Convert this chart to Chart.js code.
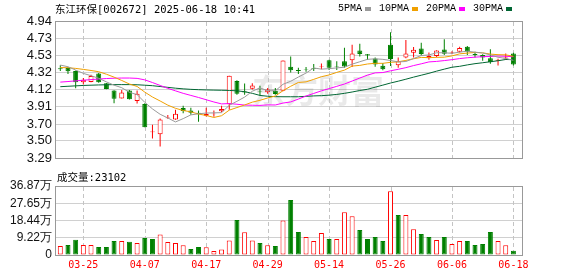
<!DOCTYPE html>
<html><head><meta charset="utf-8">
<script src="https://cdn.jsdelivr.net/npm/chart.js@4/dist/chart.umd.min.js"></script>
<style>
html,body{margin:0;padding:0;background:#fff;}
#wrap{position:relative;width:578px;height:276px;overflow:hidden;}
canvas{position:absolute;left:0;}
.t{position:absolute;white-space:nowrap;color:#000;font-family:"DejaVu Sans Mono","Noto Sans CJK SC",monospace;font-size:10.5px;line-height:12px;}
#legend{display:flex;align-items:center;font-family:"Liberation Mono","Noto Sans CJK SC",monospace;font-size:10px;}
#legend i{display:inline-block;width:6px;height:4px;margin:0 8px 0 3px;}
</style></head>
<body><div id="wrap">
<canvas id="k" width="578" height="170" style="top:0"></canvas>
<canvas id="v" width="578" height="106" style="top:170px"></canvas>
<div class="t" id="title" style="left:55px;top:3px"></div>
<div class="t" id="legend" style="left:338px;top:3px"></div>
<div class="t" id="vtitle" style="left:57px;top:171px"></div>
</div>
<script>
// ---------------- data ----------------
const stockTitle = '东江环保[002672] 2025-06-18 10:41';
const volTitle = '成交量:23102';
const maNames = ['5PMA', '10PMA', '20PMA', '30PMA'];
const dates = ['03-20','03-21','03-24','03-25','03-26','03-27','03-28','03-31','04-01','04-02',
  '04-03','04-07','04-08','04-09','04-10','04-11','04-14','04-15','04-16','04-17',
  '04-18','04-21','04-22','04-23','04-24','04-25','04-28','04-29','04-30','05-06',
  '05-07','05-08','05-09','05-12','05-13','05-14','05-15','05-16','05-19','05-20',
  '05-21','05-22','05-23','05-26','05-27','05-28','05-29','05-30','06-03','06-04',
  '06-05','06-06','06-09','06-10','06-11','06-12','06-13','06-16','06-17','06-18'];
const tickIdx = [3, 11, 19, 27, 35, 43, 51, 59];
const priceTicks = [3.29, 3.50, 3.70, 3.91, 4.12, 4.32, 4.53, 4.73, 4.94];
const volTicks = [0, 9.22, 18.44, 27.65, 36.87];

const open = [4.371,4.375,4.340,4.203,4.207,4.310,4.191,4.104,4.008,4.104,3.978,3.943,3.603,3.577,3.770,3.756,3.893,3.863,3.836,3.800,3.818,3.856,3.939,4.218,4.092,4.125,4.092,4.083,4.102,4.102,4.390,4.352,4.363,4.375,4.388,4.467,4.394,4.455,4.467,4.585,4.539,4.489,4.401,4.654,4.409,4.501,4.558,4.608,4.493,4.520,4.596,4.554,4.570,4.631,4.543,4.531,4.493,4.463,4.489,4.550];
const high = [4.409,4.386,4.345,4.256,4.295,4.314,4.195,4.108,4.111,4.111,4.104,3.950,3.691,3.767,3.810,3.874,3.920,3.897,3.863,3.897,3.863,3.920,4.283,4.226,4.188,4.190,4.160,4.135,4.135,4.466,4.512,4.379,4.386,4.424,4.428,4.474,4.455,4.619,4.654,4.665,4.543,4.501,4.436,4.806,4.501,4.711,4.627,4.677,4.562,4.589,4.722,4.577,4.631,4.638,4.570,4.539,4.600,4.486,4.550,4.558];
const low = [4.340,4.302,4.130,4.176,4.203,4.196,4.119,3.951,4.008,3.996,3.947,3.661,3.527,3.431,3.765,3.752,3.832,3.813,3.729,3.790,3.787,3.844,3.874,4.054,4.054,4.115,4.045,4.064,4.052,4.095,4.321,4.302,4.329,4.340,4.360,4.352,4.352,4.379,4.386,4.512,4.474,4.390,4.348,4.398,4.379,4.493,4.501,4.524,4.474,4.505,4.531,4.539,4.562,4.531,4.501,4.463,4.425,4.405,4.474,4.405];
const close = [4.360,4.337,4.203,4.233,4.279,4.203,4.123,4.004,4.081,4.000,4.065,3.661,3.610,3.756,3.778,3.825,3.859,3.836,3.818,3.822,3.826,3.882,4.283,4.065,4.080,4.165,4.085,4.115,4.062,4.466,4.348,4.340,4.356,4.367,4.394,4.379,4.386,4.392,4.550,4.543,4.524,4.417,4.360,4.482,4.455,4.550,4.593,4.543,4.520,4.585,4.547,4.562,4.615,4.570,4.531,4.501,4.444,4.474,4.501,4.417];

const ma5 = [4.41,4.39,4.35,4.31,4.282,4.251,4.208,4.168,4.138,4.082,4.055,3.962,3.883,3.818,3.774,3.726,3.766,3.811,3.824,3.833,3.835,3.838,3.926,3.974,4.025,4.095,4.136,4.102,4.101,4.179,4.215,4.266,4.314,4.375,4.361,4.367,4.376,4.384,4.421,4.450,4.479,4.485,4.479,4.465,4.448,4.453,4.488,4.525,4.532,4.558,4.558,4.551,4.566,4.576,4.565,4.556,4.532,4.504,4.490,4.467];
const ma10 = [4.38,4.378,4.37,4.358,4.345,4.33,4.30,4.265,4.225,4.182,4.153,4.085,4.026,3.978,3.928,3.890,3.864,3.847,3.821,3.804,3.780,3.801,3.868,3.899,3.930,3.964,3.986,4.014,4.038,4.102,4.155,4.201,4.208,4.238,4.270,4.291,4.322,4.349,4.398,4.406,4.423,4.431,4.431,4.443,4.449,4.466,4.486,4.502,4.499,4.503,4.505,4.520,4.545,4.554,4.562,4.557,4.542,4.535,4.533,4.516];
const ma20 = [4.205,4.212,4.22,4.228,4.235,4.242,4.248,4.252,4.254,4.254,4.25,4.232,4.2,4.165,4.13,4.10,4.07,4.045,4.02,3.993,3.966,3.943,3.947,3.939,3.929,3.927,3.925,3.931,3.930,3.953,3.967,4.001,4.038,4.069,4.100,4.127,4.154,4.182,4.218,4.254,4.289,4.316,4.320,4.341,4.359,4.379,4.404,4.425,4.448,4.454,4.464,4.475,4.488,4.498,4.505,4.511,4.514,4.518,4.516,4.510];
const ma30 = [4.150,4.155,4.160,4.165,4.168,4.171,4.173,4.175,4.175,4.175,4.173,4.168,4.162,4.152,4.142,4.132,4.124,4.118,4.114,4.111,4.109,4.107,4.105,4.100,4.090,4.070,4.045,4.035,4.030,4.029,4.029,4.029,4.034,4.039,4.042,4.048,4.057,4.070,4.086,4.104,4.119,4.144,4.169,4.194,4.216,4.240,4.265,4.288,4.311,4.337,4.361,4.384,4.395,4.412,4.427,4.438,4.450,4.462,4.477,4.475];

const volume = [4.8,5.3,8.2,5.3,5.3,4.3,4.3,7.5,7.5,7.1,6.4,9.1,8.5,11.0,6.9,6.4,5.2,3.2,4.3,4.1,2.1,3.0,7.8,18.7,12.1,7.8,6.4,5.2,4.8,18.5,29.4,12.3,9.6,7.5,11.8,8.5,8.5,22.8,20.7,13.4,8.5,9.6,7.5,34.0,21.4,21.4,13.7,11.2,9.6,8.0,9.6,5.9,7.5,7.5,5.3,5.9,12.3,7.5,5.2,2.31];
const volUp = [1,0,0,1,1,0,0,0,1,0,1,0,0,1,1,1,1,0,0,1,1,1,1,0,1,1,0,1,0,1,0,0,1,1,1,0,1,1,1,0,0,0,0,1,0,1,1,0,0,1,0,1,1,0,0,0,0,1,1,0];

// ---------------- styles ----------------
const RED = '#ff0000', GREEN = '#008000';
const maColors = ['#9a9a9a', '#f0a000', '#ff00ff', '#006633'];
const X_MIN = -0.56, X_MAX = 60.12;

document.getElementById('title').textContent = stockTitle;
document.getElementById('vtitle').textContent = volTitle;
const lg = document.getElementById('legend');
maNames.forEach((n, k) => {
  const s = document.createElement('span'); s.textContent = n; lg.appendChild(s);
  const b = document.createElement('i'); b.style.background = maColors[k]; lg.appendChild(b);
});

const frame = {
  id: 'frame',
  afterDraw(c) {
    const {ctx, chartArea: a} = c;
    ctx.save(); ctx.strokeStyle = '#999'; ctx.lineWidth = 1;
    ctx.strokeRect(Math.round(a.left) - 0.5, Math.round(a.top) + 0.5,
      Math.round(a.right - a.left) + 1, Math.round(a.bottom - a.top));
    ctx.restore();
  }
};
// vertical dashed grid lines at the date ticks; pixel x from the x scale,
// dashes drawn as small filled rectangles (4 on / 3 off)
const vgrid = {
  id: 'vgrid',
  beforeDatasetsDraw(c) {
    const ctx = c.ctx, a = c.chartArea, xs = c.scales.x;
    ctx.save();
    ctx.fillStyle = '#c4c4c4';
    for (const v of tickIdx) {
      const px = Math.round(xs.getPixelForValue(v));
      for (let y = Math.round(a.top) + 1; y < a.bottom; y += 7) {
        ctx.fillRect(px, y, 1, Math.min(4, a.bottom - y));
      }
    }
    ctx.restore();
  }
};
const watermark = {
  id: 'watermark',
  beforeDatasetsDraw(c) {
    const ctx = c.ctx; ctx.save();
    ctx.fillStyle = 'rgba(0,0,0,0.085)';
    ctx.font = 'bold 33px "Noto Sans CJK SC"';
    ctx.textBaseline = 'middle'; ctx.textAlign = 'left';
    ctx.fillText('东方财富', 252, 90);
    ctx.restore();
  }
};

const idx = dates.map((d, i) => i);
const isUp = i => close[i] >= open[i];

const xCommon = (showLabels) => ({
  type: 'linear', min: X_MIN, max: X_MAX, offset: false,
  afterBuildTicks: s => { s.ticks = tickIdx.map(v => ({value: v})); },
  afterFit: s => { s.height = showLabels ? 21 : 0; },
  grid: {display: false, drawTicks: false, offset: false},
  border: {display: false},
  ticks: {display: showLabels, autoSkip: false, maxRotation: 0, padding: 4,
    color: RED, font: {family: 'DejaVu Sans Mono', size: 10},
    callback: v => dates[v]}
});
const yCommon = (lo, hi, vals, size, fmt) => ({
  type: 'linear', min: lo, max: hi,
  afterBuildTicks: s => { s.ticks = vals.map(v => ({value: v})); },
  afterFit: s => { s.width = 56; },
  grid: {color: '#d0d0d0', drawTicks: false},
  border: {display: false},
  ticks: {autoSkip: false, padding: 4, color: '#111',
    font: {family: 'Liberation Sans', size: size}, callback: fmt}
});

new Chart(document.getElementById('k'), {
  type: 'bar',
  data: {
    datasets: [
      ...[ma5, ma10, ma20, ma30].map((arr, k) => ({
        type: 'line', label: maNames[k], order: 0,
        data: arr.map((v, i) => ({x: i, y: v})),
        borderColor: maColors[k], borderWidth: 1, pointRadius: 0, tension: 0, fill: false
      })),
      {
        label: 'body', order: 1, grouped: false, barThickness: 5, inflateAmount: 0,
        data: idx.map(i => ({x: i, y: [open[i], close[i]]})),
        backgroundColor: idx.map(i => isUp(i) ? '#ffffff' : GREEN),
        borderColor: idx.map(i => isUp(i) ? RED : GREEN),
        borderWidth: 1, borderSkipped: false
      },
      {
        label: 'wick', order: 2, grouped: false, barThickness: 1, inflateAmount: 0,
        data: idx.map(i => ({x: i, y: [low[i], high[i]]})),
        backgroundColor: idx.map(i => isUp(i) ? RED : GREEN),
        borderWidth: 0
      }
    ]
  },
  options: {
    responsive: false, animation: false, devicePixelRatio: 1,
    layout: {padding: {left: 0, top: 21, right: 56, bottom: 5}},
    plugins: {legend: {display: false}, tooltip: {enabled: false}},
    scales: {
      x: xCommon(false),
      y: yCommon(3.29, 4.94, priceTicks, 13, v => v.toFixed(2))
    }
  },
  plugins: [watermark, vgrid, frame]
});

new Chart(document.getElementById('v'), {
  type: 'bar',
  data: {
    datasets: [{
      label: 'volume', grouped: false, barThickness: 5, inflateAmount: 0,
      data: idx.map(i => ({x: i, y: volume[i]})),
      backgroundColor: idx.map(i => volUp[i] ? '#ffffff' : GREEN),
      borderColor: idx.map(i => volUp[i] ? RED : GREEN),
      borderWidth: 1, borderSkipped: false
    }]
  },
  options: {
    responsive: false, animation: false, devicePixelRatio: 1,
    layout: {padding: {left: 0, top: 16, right: 56, bottom: 0}},
    plugins: {legend: {display: false}, tooltip: {enabled: false}},
    scales: {
      x: xCommon(true),
      y: yCommon(0, 36.87, volTicks, 12, v => v === 0 ? '0' : v.toFixed(2) + '万')
    }
  },
  plugins: [vgrid, frame]
});
</script>
</body></html>
